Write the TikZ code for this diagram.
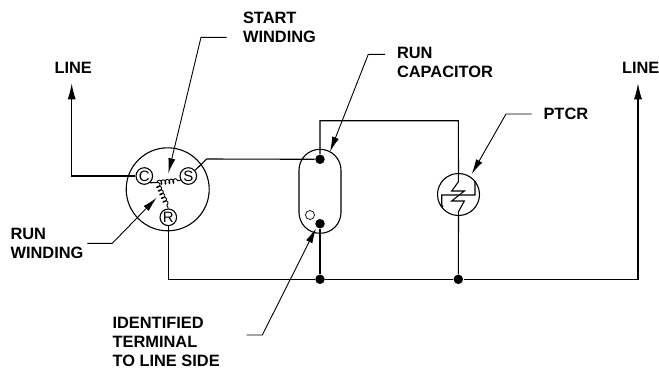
\documentclass[tikz,border=0pt]{standalone}
\usepackage{fontspec}
\setmainfont{Liberation Sans}
\usetikzlibrary{arrows.meta,decorations.pathmorphing}
\tikzset{term/.style = {shape=circle,draw,minimum size=16.6,inner sep=0,font=\fontsize{15}{15}\selectfont}}
\tikzset{dot/.style = {shape=circle,fill,minimum size=9.5,inner sep=0}}
\tikzset{tag/.style = {anchor=west,align=left,inner sep=0,font=\fontsize{16.4}{19}\selectfont\bfseries}}
\tikzset{wire/.style = {line width=1.1}}
\tikzset{lineout/.style = {wire,-{Latex[length=16,width=8]}}}
\tikzset{leader/.style = {line width=0.9,-{Latex[length=15,width=7]}}}
\tikzset{coil/.style = {line width=0.9,decorate,decoration={coil,aspect=0.6,segment length=4,amplitude=2.2}}}

\begin{document}
\begin{tikzpicture}[x=1pt,y=-1pt,line width=1.1]
        \useasboundingbox (0, 0) rectangle (659, 368);

        \node[tag] (lineleft) at (54, 67.5) {LINE};
        \node[tag] (lineright) at (621.5, 67.5) {LINE};
        \node[tag] (startlabel) at (242.5, 27) {START\\WINDING};
        \node[tag] (capacitorlabel) at (396.5, 62.5) {RUN\\CAPACITOR};
        \node[tag] (ptcrlabel) at (543, 114) {PTCR};
        \node[tag] (runlabel) at (10, 243) {RUN\\WINDING};
        \node[tag] (sidelabel) at (112, 341.5) {IDENTIFIED\\TERMINAL\\TO LINE SIDE};

        \node[circle,draw,minimum size=83,inner sep=0] (motor) at (167.7, 189.3) {};
        \node[term] (c) at (144.3, 176) {C};
        \node[term] (s) at (188.3, 176) {S};
        \node[term] (r) at (168.3, 217.3) {R};
        \coordinate (hub) at (157, 182.5);

        \node[draw,rounded corners=20.9,minimum width=42,minimum height=84,inner sep=0] (capacitor) at (320, 191.3) {};
        \node[dot] (captop) at (320, 159.3) {};
        \node[dot] (capbottom) at (320, 223.7) {};
        \node[circle,draw,line width=0.7,minimum size=9,inner sep=0] (capmark) at (310, 215) {};

        \node[circle,draw,minimum size=42,inner sep=0] (ptcr) at (458.5, 194.5) {};
        \node[dot] (joinleft) at (320, 279.3) {};
        \node[dot] (joinright) at (458.3, 279.3) {};

        \coordinate (lineleftend) at (71.7, 83.3);
        \coordinate (linerightend) at (638, 83.3);
        \coordinate (cbend) at (71.7, 176);
        \coordinate (sbend) at (206.7, 159);
        \coordinate (rbend) at (168.3, 279.3);
        \coordinate (rightbend) at (638, 279.3);
        \coordinate (topleft) at (320, 120.7);
        \coordinate (topright) at (458.3, 120.7);

        \draw[lineout] (c.west) -- (cbend) -- (lineleftend);
        \draw[wire] (s.40) -- (sbend) -- (captop);
        \draw[wire] (captop) -- (topleft) -- (topright) -- (ptcr.north);
        \draw[wire] (capbottom) -- (joinleft);
        \draw[wire] (r.south) -- (rbend) -- (joinleft) -- (joinright);
        \draw[lineout] (joinright) -- (rightbend) -- (linerightend);

        \draw[wire] (c.-50) -- (hub);
        \draw[coil] (hub) -- (s.-150);
        \draw[coil] (hub) -- (r.north);

        \draw[wire] (ptcr.north) -- (458.3, 182) -- (451.7, 191) -- (464.3, 191) -- (451.7, 201) -- (464.3, 201) -- (458.3, 212) -- (ptcr.south);
        \draw[wire] (443, 207) -- (441.7, 205) -- (441.7, 195) -- (475, 195) -- (475, 181);
        \draw[wire] (ptcr.south) -- (joinright);

        \coordinate (starthook) at (226.7, 37.3);
        \coordinate (startknee) at (201, 37.3);
        \coordinate (starttip) at (168.3, 173.3);
        \coordinate (caphook) at (385, 54.3);
        \coordinate (capknee) at (368.3, 54.3);
        \coordinate (captip) at (330, 151.7);
        \coordinate (runhook) at (87.3, 243.3);
        \coordinate (runknee) at (112.3, 243.3);
        \coordinate (runtip) at (156.7, 197.7);
        \coordinate (sidehook) at (246.7, 335);
        \coordinate (sideknee) at (262.3, 335);
        \coordinate (sidetip) at (316, 228.3);
        \coordinate (ptcrhook) at (531.7, 114);
        \coordinate (ptcrknee) at (506, 114);
        \coordinate (ptcrtip) at (471.7, 174);

        \draw[leader] (starthook) -- (startknee) -- (starttip);
        \draw[leader] (caphook) -- (capknee) -- (captip);
        \draw[leader] (runhook) -- (runknee) -- (runtip);
        \draw[leader] (sidehook) -- (sideknee) -- (sidetip);
        \draw[leader] (ptcrhook) -- (ptcrknee) -- (ptcrtip);
      \end{tikzpicture}
\end{document}
